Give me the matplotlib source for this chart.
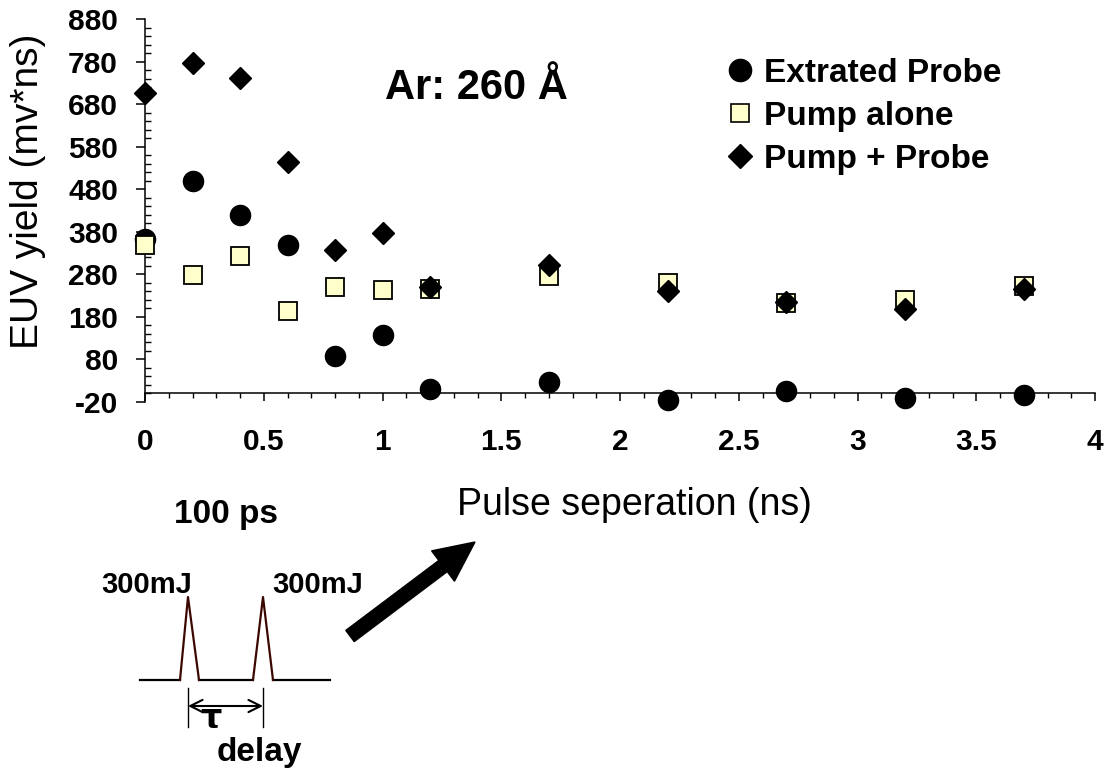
import numpy as np
import matplotlib
matplotlib.use('Agg')
import matplotlib.pyplot as plt
from matplotlib.ticker import FixedLocator, MultipleLocator, FuncFormatter
from matplotlib.lines import Line2D
from matplotlib.patches import FancyArrow

plt.rcParams['font.family'] = ['Liberation Sans', 'DejaVu Sans']
plt.rcParams['axes.unicode_minus'] = False

# ---- data ----
separation = [0, 0.2, 0.4, 0.6, 0.8, 1.0, 1.2, 1.7, 2.2, 2.7, 3.2, 3.7]
extracted_probe = [362, 500, 420, 350, 88, 138, 10, 26, -15, 6, -11, -4]
pump_alone = [350, 279, 323, 195, 251, 244, 246, 277, 260, 213, 220, 253]
pump_probe = [706, 777, 742, 544, 338, 378, 251, 302, 241, 216, 198, 245]

y_ticks = [-20, 80, 180, 280, 380, 480, 580, 680, 780, 880]
x_ticks = [0, 0.5, 1, 1.5, 2, 2.5, 3, 3.5, 4]
labels = ['Extrated Probe', 'Pump alone', 'Pump + Probe']

W, H = 1110, 780
fig = plt.figure(figsize=(W / 100, H / 100), dpi=100)

# axes box in pixels: x 145..1095, y 19..402
ax = fig.add_axes([145 / W, 1 - 402 / H, 950 / W, 383 / H])
ax.patch.set_visible(False)
ax.set_xlim(0, 4)
ax.set_ylim(-20, 880)

ax.plot(separation, extracted_probe, 'o', color='black', ms=14.5, clip_on=False, zorder=3)
ax.plot(separation, pump_alone, 's', mfc='#FFFFCC', mec='black', mew=1.3, ms=12.5,
        clip_on=False, zorder=4)
ax.plot(separation, pump_probe, 'D', color='black', ms=11.5, clip_on=False, zorder=5)

for s in ['top', 'right']:
    ax.spines[s].set_visible(False)
ax.spines['bottom'].set_position(('data', 0))
ax.spines['left'].set_linewidth(1.1)
ax.spines['bottom'].set_linewidth(1.1)

ax.yaxis.set_major_locator(FixedLocator(y_ticks))
ax.yaxis.set_minor_locator(MultipleLocator(20))
ax.xaxis.set_major_locator(FixedLocator(x_ticks))
ax.xaxis.set_minor_locator(MultipleLocator(0.1))
ax.xaxis.set_major_formatter(FuncFormatter(lambda v, p: '%g' % v))

ax.tick_params(axis='y', which='major', direction='out', length=6.5, width=1.1,
               labelsize=21.5, pad=13)
ax.tick_params(axis='y', which='minor', direction='in', length=4.5, width=1.0)
ax.tick_params(axis='x', which='major', direction='out', length=6, width=1.1,
               labelsize=21.5, pad=19)
ax.tick_params(axis='x', which='minor', direction='out', length=3.5, width=1.0)
for t in ax.get_xticklabels() + ax.get_yticklabels():
    t.set_fontweight('bold')

handles = [
    Line2D([], [], ls='none', marker='o', color='black', ms=16),
    Line2D([], [], ls='none', marker='s', mfc='#FFFFCC', mec='black', mew=1.2, ms=13),
    Line2D([], [], ls='none', marker='D', color='black', ms=12),
]
leg = ax.legend(handles, labels, loc='upper left',
                bbox_to_anchor=(727 / W, 1 - 58 / H), bbox_transform=fig.transFigure,
                frameon=False, prop={'size': 24, 'weight': 'bold'},
                handlelength=0.8, handletextpad=0.3, labelspacing=0.36,
                borderaxespad=0, borderpad=0)

# ---- labels and the pulse sketch, drawn in pixel space ----
ov = fig.add_axes([0, 0, 1, 1], zorder=-1)
ov.set_xlim(0, W)
ov.set_ylim(H, 0)
ov.axis('off')

ov.text(385, 88, 'Ar: 260 Å', fontsize=30, fontweight='bold', ha='left', va='center')
ov.text(28, 191, 'EUV yield (mv*ns)', rotation=90, fontsize=28, ha='center', va='center')
ov.text(634, 505, 'Pulse seperation (ns)', fontsize=27, ha='center', va='center')
ov.text(226, 514, '100 ps', fontsize=24, fontweight='bold', ha='center', va='center')
ov.text(147, 585, '300mJ', fontsize=21, fontweight='bold', ha='center', va='center')
ov.text(318, 585, '300mJ', fontsize=21, fontweight='bold', ha='center', va='center')

ov.plot([140, 180], [680, 680], color='black', lw=1.6)
ov.plot([199, 253], [680, 680], color='black', lw=1.6)
ov.plot([273, 330], [680, 680], color='black', lw=1.6)
ov.plot([180, 188, 199], [680, 597, 680], color='#3a0800', lw=1.6)
ov.plot([253, 263, 273], [680, 597, 680], color='#3a0800', lw=1.6)

ov.plot([188, 188], [688, 727], color='black', lw=1.0)
ov.plot([263, 263], [688, 727], color='black', lw=1.0)
ov.annotate('', xy=(188, 706), xytext=(263, 706),
            arrowprops=dict(arrowstyle='<->', lw=1.5, color='black',
                            mutation_scale=22, shrinkA=0, shrinkB=0))
ov.text(211, 719, 'τ', fontsize=24, fontweight='bold', ha='center', va='center',
        family=['DejaVu Sans'])
ov.text(259, 752, 'delay', fontsize=24, fontweight='bold', ha='center', va='center')

ov.add_patch(FancyArrow(350, 636, 125, -94, width=14, head_width=38, head_length=40,
                        length_includes_head=True, color='black'))

fig.savefig('out.png', dpi=100)
